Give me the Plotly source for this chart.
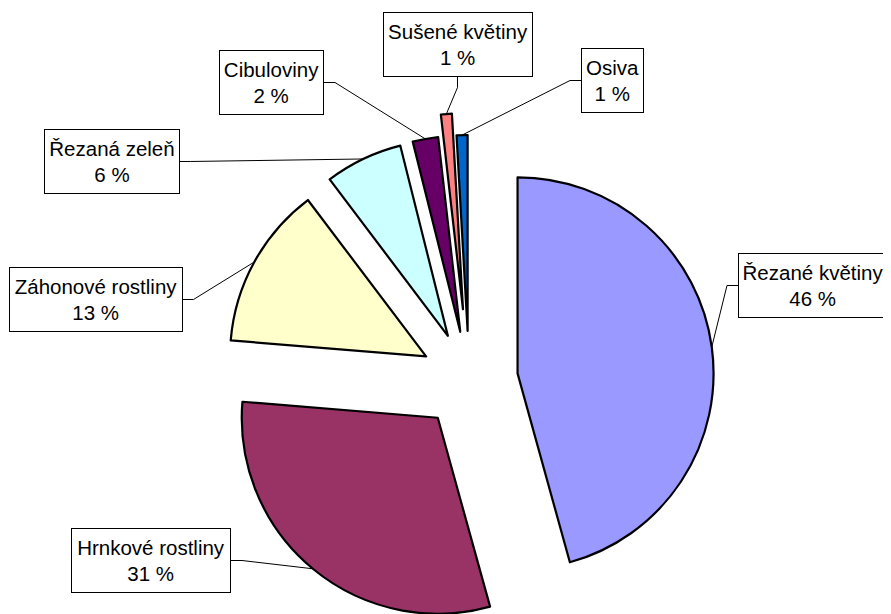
import math
import plotly.graph_objects as go

# ---- data ----
labels = ["Řezané květiny", "Hrnkové rostliny", "Záhonové rostliny", "Řezaná zeleň",
          "Cibuloviny", "Sušené květiny", "Osiva"]
values = [45.7, 30.6, 13.4, 6.4, 2.1, 0.9, 0.9]

# ---- styles / layout constants ----
colors = ["#9999FF", "#993366", "#FFFFCC", "#CCFFFF", "#660066", "#FF8080", "#0066CC"]
explode_px = [49, 49, 49, 49, 49, 71, 49]
OFF = 8                    # page body margin (px)
W, H = 891 - OFF, 614 - OFF
CX, CY = 469, 380          # pie centre (page px)
R = 196                    # pie radius (px)
FONT = dict(family="Liberation Sans, Arial, sans-serif", size=20.5, color="black")
# label boxes (page px): centre x, centre y, width, height, leader side
boxes = [
    (813.0, 285.5, 150, 65, "left"),
    (151.0, 560.5, 160, 65, "right"),
    (95.5, 299.5, 174, 65, "right"),
    (111.5, 161.5, 136, 65, "right"),
    (271.5, 82.5, 105, 65, "right"),
    (457.5, 44.0, 150, 65, "bottom"),
    (612.5, 80.5, 63, 65, "left"),
]
STUB = 11
PAD = 3


def px(x, y):
    return (x - OFF) / W, 1 - (y - OFF) / H


fig = go.Figure()
total = sum(values)
cum = 0.0
shapes = []
annotations = []
for i, v in enumerate(values):
    a0 = cum / total * 360.0
    cum += v
    a1 = cum / total * 360.0
    mid = math.radians((a0 + a1) / 2)
    dx, dy = math.sin(mid), -math.cos(mid)
    apx, apy = CX + explode_px[i] * dx, CY + explode_px[i] * dy
    lx, ty_ = px(apx - R, apy - R)
    rx, by_ = px(apx + R, apy + R)
    fig.add_trace(go.Pie(
        values=values, labels=labels, sort=False, direction="clockwise", rotation=0,
        marker=dict(colors=[c if j == i else "rgba(0,0,0,0)" for j, c in enumerate(colors)],
                    line=dict(color="black", width=[2.2 if j == i else 0 for j in range(len(values))])),
        textinfo="none", hoverinfo="label+percent", showlegend=False,
        domain=dict(x=[max(0.0, lx), min(1.0, rx)], y=[max(0.0, by_), min(1.0, ty_)]),
    ))

    # label box
    bx, by, bw, bh, side = boxes[i]
    pct = round(v / total * 100)
    ax_, ay_ = px(bx, by)
    annotations.append(dict(
        x=ax_, y=ay_, xref="paper", yref="paper", xanchor="center", yanchor="middle",
        showarrow=False, text=f"{labels[i]}<br>{pct} %", font=FONT, align="center",
        bordercolor="black", borderwidth=1, borderpad=PAD, bgcolor="white",
        width=bw - 2 * (PAD + 1), height=bh - 2 * (PAD + 1),
    ))

    # leader line: box side -> short stub -> arc midpoint
    endx, endy = apx + R * dx, apy + R * dy
    if side == "left":
        sx, sy = bx - bw / 2, by
        tx, ty = sx - STUB, sy
    elif side == "right":
        sx, sy = bx + bw / 2, by
        tx, ty = sx + STUB, sy
    else:
        sx, sy = bx, by + bh / 2
        tx, ty = sx, sy + STUB
    p = [px(sx, sy), px(tx, ty), px(endx, endy)]
    path = "M {:.5f},{:.5f} L {:.5f},{:.5f} L {:.5f},{:.5f}".format(
        p[0][0], p[0][1], p[1][0], p[1][1], p[2][0], p[2][1])
    shapes.append(dict(type="path", path=path, xref="paper", yref="paper",
                       line=dict(color="black", width=1), layer="above"))

fig.update_layout(
    width=W, height=H, margin=dict(l=0, r=0, t=0, b=0),
    paper_bgcolor="white", plot_bgcolor="white",
    shapes=shapes, annotations=annotations, showlegend=False,
)
fig.write_html("out.html")
